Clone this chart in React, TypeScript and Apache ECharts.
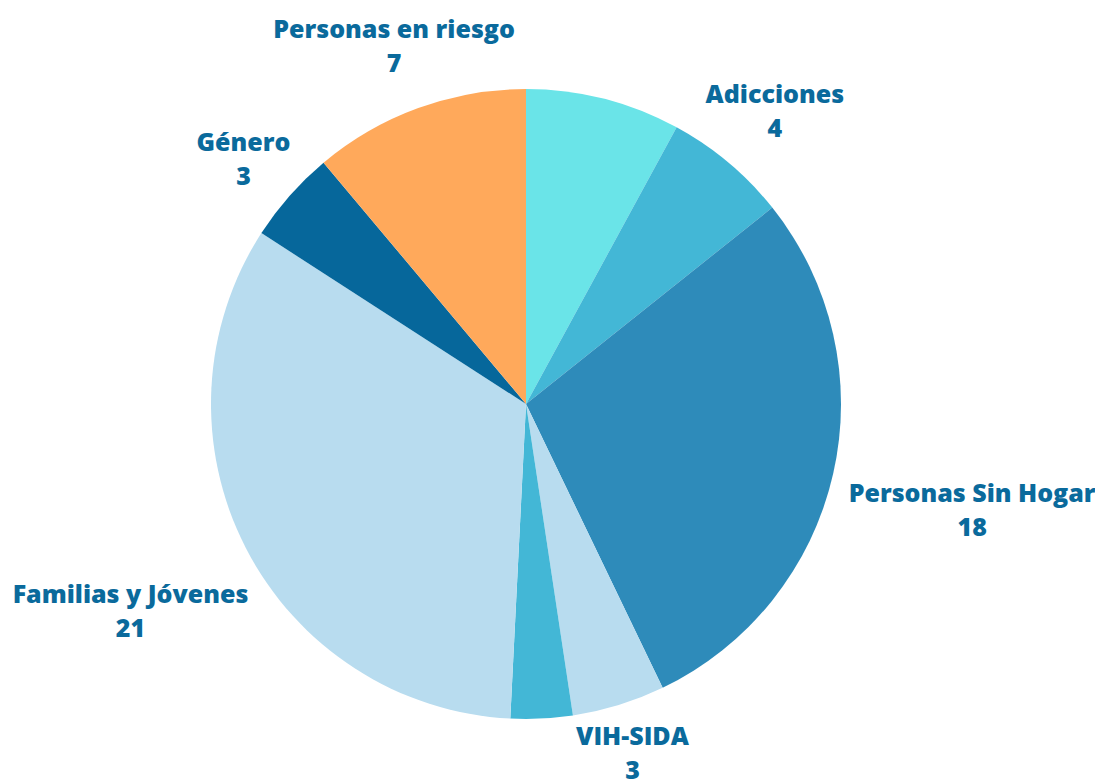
import React, { useEffect, useRef } from 'react';
import * as echarts from 'echarts';

const categories = ['Otros', 'Adicciones', 'Personas Sin Hogar', 'VIH-SIDA', 'Otros 2', 'Familias y Jóvenes', 'Género', 'Personas en riesgo'];
const values = [5, 4, 18, 3, 2, 21, 3, 7];
const showLabel = [false, true, true, true, false, true, true, true];
const colors = ['#6ae4e8', '#43b7d6', '#2e8bba', '#b8dcef', '#43b7d6', '#b8dcef', '#06679b', '#ffa95b'];

const CX = 526;
const CY = 404;
const RADIUS = 315;
const OFFSET = 20;
const H_EFF = 20;
const Y_SHIFT = 3;

export default function App() {
  const ref = useRef<HTMLDivElement>(null);
  useEffect(() => {
    if (!ref.current) return;
    const chart = echarts.init(ref.current, undefined, { renderer: 'svg' });
    const total = values.reduce((a, b) => a + b, 0);
    chart.setOption({
      animation: false,
      backgroundColor: '#ffffff',
      series: [
        {
          type: 'pie',
          center: [CX, CY],
          radius: [0, RADIUS],
          startAngle: 90,
          clockwise: true,
          avoidLabelOverlap: false,
          data: categories.map((name, i) => ({
            name,
            value: values[i],
            itemStyle: { color: colors[i] },
            label: { show: showLabel[i] },
          })),
          label: {
            show: true,
            position: 'outside',
            formatter: '{b}\n{c}',
            color: '#0a6a9c',
            fontFamily: 'Open Sans',
            fontWeight: 800,
            fontSize: 25,
            lineHeight: 34,
            align: 'center',
          },
          labelLine: { show: false },
          emphasis: { disabled: true },
          labelLayout: (params: any) => {
            const i = params.dataIndex;
            let before = 0;
            for (let j = 0; j < i; j++) before += values[j];
            const ang = ((before + values[i] / 2) / total) * Math.PI * 2;
            const vx = Math.sin(ang);
            const vy = -Math.cos(ang);
            const w = params.labelRect.width;
            const d = RADIUS + OFFSET + (Math.abs(vx) * w) / 2 + (Math.abs(vy) * H_EFF) / 2;
            return { x: CX + vx * d, y: CY + vy * d + Y_SHIFT, align: 'center', verticalAlign: 'middle' };
          },
        },
      ],
    });
    return () => chart.dispose();
  }, []);
  return <div ref={ref} style={{ position: 'fixed', left: 0, top: 0, width: 1095, height: 780 }} />;
}
